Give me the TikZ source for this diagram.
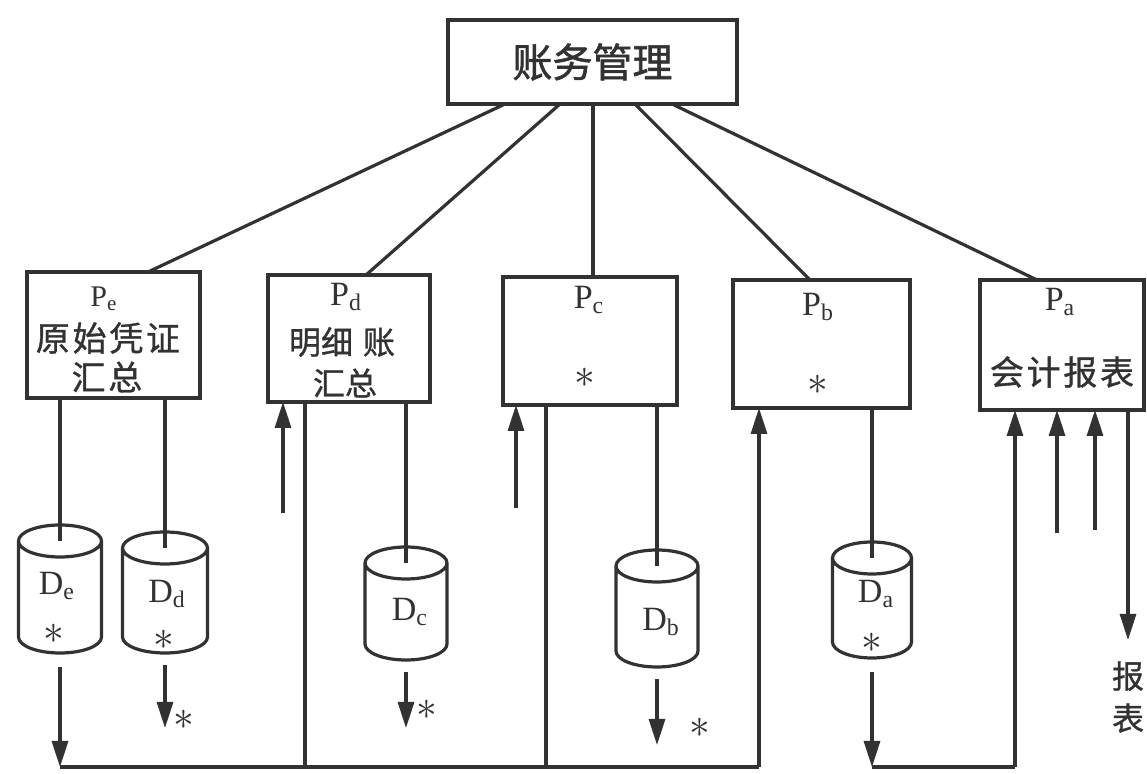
\documentclass[tikz,border=0pt]{standalone}
\usepackage{fontspec}
\setmainfont{Liberation Serif}
\newfontfamily\cjk[FakeBold=1.5]{Noto Sans CJK SC}
\newfontfamily\cjksp[LetterSpace=8,FakeBold=1]{Noto Sans CJK SC}
\newfontfamily\cjkm[FakeBold=1]{Noto Sans CJK SC}
\usetikzlibrary{arrows.meta}
\definecolor{ink}{RGB}{50,50,50}
\newcommand\drawcyl[2]{\draw[ln,line width=1.6pt] ([yshift=-8pt]#1.north west) -- ([yshift=8pt]#1.south west) arc[start angle=180,end angle=360,x radius=#2,y radius=8pt] -- ([yshift=-8pt]#1.north east) arc[start angle=0,end angle=360,x radius=#2,y radius=8pt];}
\begin{document}
\begin{tikzpicture}[x=0.5pt,y=0.5pt,
  box/.style={draw=ink,line width=2pt,inner sep=0pt,outer sep=0pt},
  ln/.style={draw=ink,line width=1.6pt},
  arr/.style={ln,-{Triangle[length=13pt,width=8pt]}},
  txt/.style={text=ink,inner sep=0pt},
  ptxt/.style={txt,font=\fontsize{17}{17}\selectfont},
  ctxt/.style={txt,font=\cjksp\fontsize{17}{17}\selectfont},
  star/.style={txt,font=\fontsize{20}{20}\selectfont},
  cylnode/.style={inner sep=0pt,outer sep=0pt}]
\useasboundingbox (0,0) rectangle (1147,-774);

% top box
\node[box,minimum width=144.5pt,minimum height=42pt,text=ink,font=\cjk\fontsize{20}{20}\selectfont] (top) at (592.5,-62) {账务管理};

% process boxes
\node[box,minimum width=86.5pt,minimum height=63pt] (Pe) at (113.5,-335) {};
\node[box,minimum width=81pt,minimum height=63.5pt] (Pd) at (349,-338.5) {};
\node[box,minimum width=87pt,minimum height=64pt] (Pc) at (590,-341) {};
\node[box,minimum width=88.5pt,minimum height=64pt] (Pb) at (821.5,-344) {};
\node[box,minimum width=82pt,minimum height=65pt] (Pa) at (1062,-345) {};

% box texts
\node[txt,font=\fontsize{15}{15}\selectfont] (Pe1) at (104,-299) {P\textsubscript{e}};
\node[ctxt] (Pe2) at (108,-338) {原始凭证};
\node[ctxt] (Pe3) at (107,-377) {汇总};
\node[ptxt] (Pd1) at (346,-297) {P\textsubscript{d}};
\node[txt,font=\cjkm\fontsize{16}{16}\selectfont] (Pd2) at (342,-342) {明细\hspace{5pt}账};
\node[txt,font=\cjkm\fontsize{16}{16}\selectfont] (Pd3) at (345,-383) {汇总};
\node[ptxt] (Pc1) at (589,-300) {P\textsubscript{c}};
\node[star] (Pc2) at (585,-378) {$\ast$};
\node[ptxt] (Pb1) at (818,-307) {P\textsubscript{b}};
\node[star] (Pb2) at (818,-385) {$\ast$};
\node[ptxt] (Pa1) at (1060,-302) {P\textsubscript{a}};
\node[ctxt] (Pa2) at (1062,-372) {会计报表};

% top connectors
\draw[ln] (top.south -| 505,0) -- (Pe.north -| 148,0);
\draw[ln] (top.south -| 560,0) -- (Pd.north -| 366,0);
\draw[ln] (top.south -| 593,0) -- (Pc.north -| 593,0);
\draw[ln] (top.south -| 635,0) -- (Pb.north -| 810,0);
\draw[ln] (top.south -| 672,0) -- (Pa.north -| 1037,0);

% data stores
\node[cylnode,minimum width=41.5pt,minimum height=64pt] (De) at (60,-589) {};
\node[cylnode,minimum width=42.5pt,minimum height=60.5pt] (Dd) at (165,-592.5) {};
\node[cylnode,minimum width=41pt,minimum height=56.5pt] (Dc) at (406,-603.5) {};
\node[cylnode,minimum width=41pt,minimum height=58.5pt] (Db) at (657,-608.5) {};
\node[cylnode,minimum width=39.5pt,minimum height=58pt] (Da) at (872,-600) {};
\drawcyl{De}{20.75pt}
\drawcyl{Dd}{21.25pt}
\drawcyl{Dc}{20.5pt}
\drawcyl{Db}{20.5pt}
\drawcyl{Da}{19.75pt}

\node[ptxt] (De1) at (57,-586) {D\textsubscript{e}};
\node[star] (De2) at (54,-634) {$\ast$};
\node[ptxt] (Dd1) at (167,-594) {D\textsubscript{d}};
\node[star] (Dd2) at (164,-640) {$\ast$};
\node[ptxt] (Dc1) at (410,-612) {D\textsubscript{c}};
\node[ptxt] (Db1) at (661,-622) {D\textsubscript{b}};
\node[ptxt] (Da1) at (876,-594) {D\textsubscript{a}};
\node[star] (Da2) at (872,-643) {$\ast$};

% process to store
\draw[ln] (Pe.south -| De.north) -- ([yshift=-8pt]De.north);
\draw[ln] (Pe.south -| Dd.north) -- ([yshift=-8pt]Dd.north);
\draw[ln] (Pd.south -| Dc.north) -- ([yshift=-8pt]Dc.north);
\draw[ln] (Pc.south -| Db.north) -- ([yshift=-8pt]Db.north);
\draw[ln] (Pb.south -| Da.north) -- ([yshift=-8pt]Da.north);

% bus
\coordinate (busL) at (60,-767);
\coordinate (busR) at (759,-767);
\coordinate (busA) at (872,-767);
\coordinate (busB) at (1015,-767);
\draw[arr] ([yshift=-7pt]De.south) -- (busL);
\draw[ln] (busL) -- (busR);
\draw[arr] (busR) -- (Pb.south -| busR);
\draw[ln] (Pd.south -| 305,0) -- (busL -| 305,0);
\draw[ln] (Pc.south -| 546,0) -- (busL -| 546,0);
\draw[arr] ([yshift=-7pt]Da.south) -- (busA);
\draw[ln] (busA) -- (busB);
\draw[arr] (busB) -- (Pa.south -| busB);

% outputs below stores
\coordinate (dd) at (165,-728);
\coordinate (dc) at (406,-728);
\coordinate (db) at (657,-745);
\draw[arr] ([yshift=-6pt]Dd.south) -- (dd);
\draw[arr] ([yshift=-6pt]Dc.south) -- (dc);
\draw[arr] ([yshift=-6pt]Db.south) -- (db);
\node[star] (sdd) at (184,-720) {$\ast$};
\node[star] (sdc) at (427,-710) {$\ast$};
\node[star] (sdb) at (700,-728) {$\ast$};

% short inputs
\coordinate (i1) at (283,-513);
\coordinate (i2) at (516,-508);
\coordinate (i3) at (1057,-533);
\coordinate (i4) at (1095,-530);
\draw[arr] (i1) -- (Pd.south -| i1);
\draw[arr] (i2) -- (Pc.south -| i2);
\draw[arr] (i3) -- (Pa.south -| i3);
\draw[arr] (i4) -- (Pa.south -| i4);

% report output
\coordinate (o1) at (1128,-640);
\draw[arr] (Pa.south -| o1) -- (o1);
\node[txt,font=\cjkm\fontsize{16}{21}\selectfont,align=center] (rep) at (1128,-697) {报\\表};
\end{tikzpicture}
\end{document}
